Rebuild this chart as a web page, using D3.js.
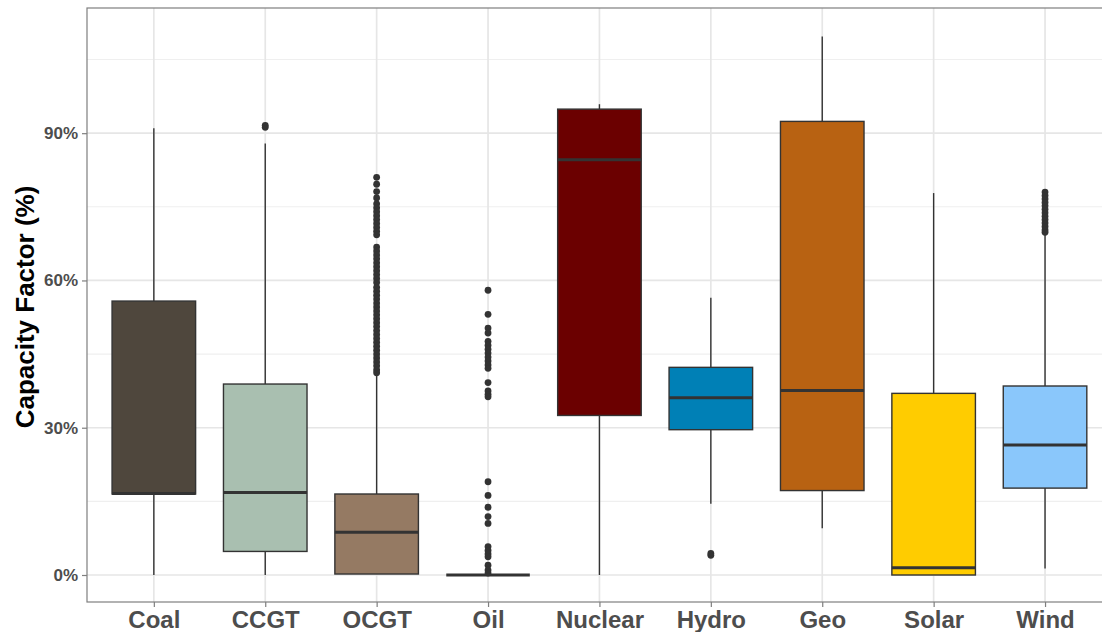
<!DOCTYPE html>
<html>
<head>
<meta charset="utf-8">
<script src="https://cdn.jsdelivr.net/npm/d3@7"></script>
<style>
  body { margin: 0; background: #fff; }
  svg { display: block; font-family: "Liberation Sans", Arial, sans-serif; }
</style>
</head>
<body>
<svg id="chart" width="1102" height="632"></svg>
<script>
// technologies, in display order
var categories = ["Coal", "CCGT", "OCGT", "Oil", "Nuclear", "Hydro", "Geo", "Solar", "Wind"];
var fills = ["#4f473d", "#a9bfb0", "#957a63", "#333333", "#6b0000", "#0080b6", "#b86212", "#ffcc00", "#8ac7fb"];

// box statistics (% capacity factor)
var whiskerLow  = [0,    0,    0.2,  0,  0,    14.5, 9.5,  0,    1.3];
var q1          = [16.5, 4.8,  0.2,  0,  32.5, 29.6, 17.2, 0,    17.7];
var median      = [16.6, 16.8, 8.7,  0,  84.6, 36.1, 37.6, 1.5,  26.5];
var q3          = [55.8, 38.9, 16.5, 0,  94.9, 42.3, 92.4, 37.0, 38.5];
var whiskerHigh = [91.0, 87.9, 40.9, 0,  95.9, 56.5, 109.7, 77.8, 69.5];

// outliers per technology
var outCCGT = [91.2, 91.6];
var outOCGT = [81.0, 79.6, 78.1, 76.8, 75.6, 74.8, 74.0, 73.2, 72.4, 71.6, 70.8, 70.0, 69.3,
               66.8, 66.0, 65.2, 64.4, 63.6, 62.8, 62.0, 61.2, 60.4, 59.6, 58.6, 57.8, 57.0,
               56.2, 55.4, 54.6, 53.8, 53.0, 52.2, 51.4, 50.6, 49.8, 49.0, 48.2, 47.4, 46.6,
               45.8, 45.0, 44.2, 43.4, 42.6, 41.8, 41.2];
var outOil = [58.0, 53.1, 50.3, 49.3, 47.6, 46.8, 46.0, 45.2, 44.4, 43.6, 42.8, 42.1, 39.2,
              37.5, 36.8, 36.3, 19.0, 16.2, 13.8, 11.9, 10.5, 5.8, 5.0, 4.3, 3.7, 2.0, 1.0, 0.4];
var outHydro = [4.0, 4.4];
var outWind = [78.0, 77.3, 76.6, 75.9, 75.2, 74.5, 73.8, 73.1, 72.4, 71.7, 71.0, 70.3, 69.8];
var outliers = [[], outCCGT, outOCGT, outOil, [], outHydro, [], [], outWind];

var yTicks = [0, 30, 60, 90];
var yMinor = [15, 45, 75, 105];

var svg = d3.select("#chart");
var margin = {left: 87, top: 8};
var step = 111.4;
var panelW = step * 9.2, panelH = 594;

var x = d3.scalePoint()
    .domain(categories)
    .range([margin.left, margin.left + panelW])
    .padding(0.6);
var y = d3.scaleLinear()
    .domain([-5.5, 115.5])
    .range([margin.top + panelH, margin.top]);

var boxW = step * 0.75;

// panel background + grid
svg.append("rect")
    .attr("x", margin.left).attr("y", margin.top)
    .attr("width", panelW).attr("height", panelH)
    .attr("fill", "#fff");

var grid = svg.append("g");
grid.selectAll(".minor").data(yMinor).enter().append("line")
    .attr("x1", margin.left).attr("x2", margin.left + panelW)
    .attr("y1", d => y(d)).attr("y2", d => y(d))
    .attr("stroke", "#efefef").attr("stroke-width", 1.1);
grid.selectAll(".major").data(yTicks).enter().append("line")
    .attr("x1", margin.left).attr("x2", margin.left + panelW)
    .attr("y1", d => y(d)).attr("y2", d => y(d))
    .attr("stroke", "#e6e6e6").attr("stroke-width", 1.7);
grid.selectAll(".vmajor").data(categories).enter().append("line")
    .attr("x1", d => x(d)).attr("x2", d => x(d))
    .attr("y1", margin.top).attr("y2", margin.top + panelH)
    .attr("stroke", "#e6e6e6").attr("stroke-width", 1.7);

// boxes
var boxes = svg.append("g").selectAll("g").data(categories).enter().append("g");

boxes.append("line")
    .attr("x1", d => x(d)).attr("x2", d => x(d))
    .attr("y1", (d, i) => y(whiskerHigh[i])).attr("y2", (d, i) => y(q3[i]))
    .attr("stroke", "#333").attr("stroke-width", 1.4);
boxes.append("line")
    .attr("x1", d => x(d)).attr("x2", d => x(d))
    .attr("y1", (d, i) => y(q1[i])).attr("y2", (d, i) => y(whiskerLow[i]))
    .attr("stroke", "#333").attr("stroke-width", 1.4);
boxes.append("rect")
    .attr("x", d => x(d) - boxW / 2)
    .attr("y", (d, i) => y(q3[i]))
    .attr("width", boxW)
    .attr("height", (d, i) => y(q1[i]) - y(q3[i]))
    .attr("fill", (d, i) => fills[i])
    .attr("stroke", "#333").attr("stroke-width", 1.4);
boxes.append("line")
    .attr("x1", d => x(d) - boxW / 2).attr("x2", d => x(d) + boxW / 2)
    .attr("y1", (d, i) => y(median[i])).attr("y2", (d, i) => y(median[i]))
    .attr("stroke", "#333").attr("stroke-width", 3);

boxes.each(function (d, i) {
    d3.select(this).selectAll("circle").data(outliers[i]).enter().append("circle")
        .attr("cx", x(d))
        .attr("cy", v => y(v))
        .attr("r", 3.4)
        .attr("fill", "#333");
});

// panel border
svg.append("rect")
    .attr("x", margin.left).attr("y", margin.top)
    .attr("width", panelW).attr("height", panelH)
    .attr("fill", "none").attr("stroke", "#7f7f7f").attr("stroke-width", 1.2);

// axes
var xAxis = svg.append("g")
    .attr("transform", "translate(0," + (margin.top + panelH) + ")")
    .call(d3.axisBottom(x).tickSize(5).tickPadding(4));
xAxis.select(".domain").remove();
xAxis.selectAll("line").attr("stroke", "#7f7f7f").attr("stroke-width", 1.2);
xAxis.selectAll("text")
    .attr("fill", "#4d4d4d").attr("font-size", "24px").attr("font-weight", "bold")
    .attr("font-family", "'Liberation Sans', Arial, sans-serif");

var yAxis = svg.append("g")
    .attr("transform", "translate(" + margin.left + ",0)")
    .call(d3.axisLeft(y).tickValues(yTicks).tickFormat(d => d + "%").tickSize(5).tickPadding(4));
yAxis.select(".domain").remove();
yAxis.selectAll("line").attr("stroke", "#7f7f7f").attr("stroke-width", 1.2);
yAxis.selectAll("text")
    .attr("fill", "#4d4d4d").attr("font-size", "17px").attr("font-weight", "bold")
    .attr("font-family", "'Liberation Sans', Arial, sans-serif");

svg.append("text")
    .attr("transform", "translate(34," + (margin.top + panelH / 2 + 2) + ") rotate(-90)")
    .attr("text-anchor", "middle")
    .attr("font-size", "26px").attr("font-weight", "bold")
    .attr("fill", "#000")
    .text("Capacity Factor (%)");
</script>
</body>
</html>
